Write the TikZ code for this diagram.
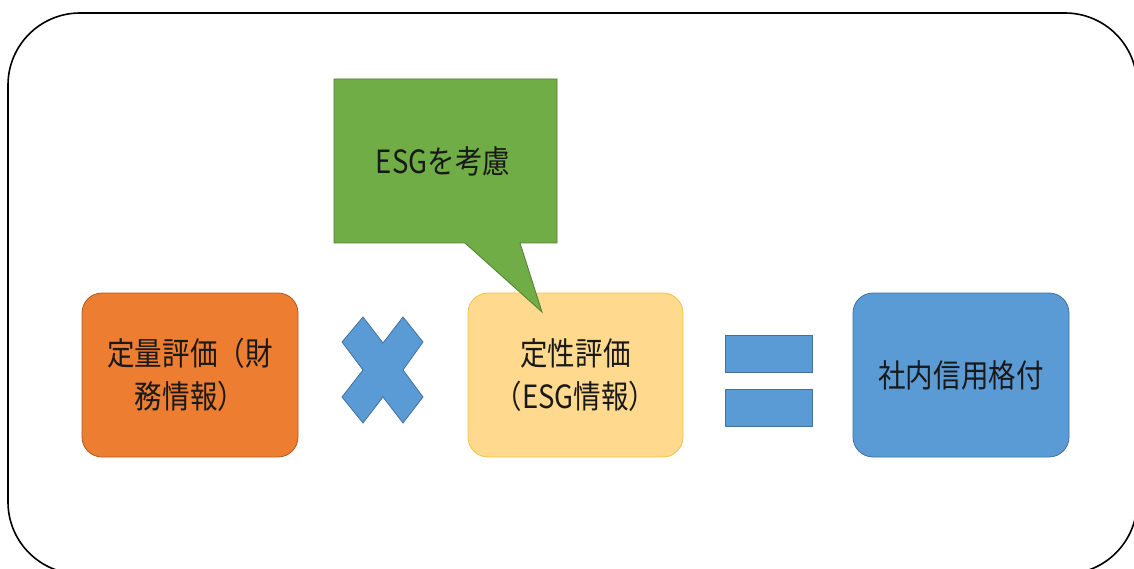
\documentclass[tikz,border=0pt]{standalone}
\usepackage{graphicx}
\usepackage{fontspec}
\setmainfont{Noto Sans CJK JP}
\definecolor{orangeF}{HTML}{ED7D31}
\definecolor{orangeD}{HTML}{AE5A21}
\definecolor{yellowF}{HTML}{FFD98E}
\definecolor{yellowD}{HTML}{F2C343}
\definecolor{blueF}{HTML}{5B9BD5}
\definecolor{blueD}{HTML}{41719C}
\definecolor{greenF}{HTML}{70AD47}
\definecolor{greenD}{HTML}{507E32}
\newcommand\cnd[1]{\scalebox{0.86}[1]{#1}}
\tikzset{
  box/.style={rectangle, rounded corners=20pt, minimum width=216pt, minimum height=164pt,
    line width=0.8pt, align=center, font=\fontsize{32pt}{43pt}\selectfont\light, text=black!90, inner sep=0pt},
  shapeblue/.style={fill=blueF, draw=blueD, line width=0.8pt},
  lbl/.style={font=\fontsize{32pt}{43pt}\selectfont\light, text=black!90, inner sep=0pt}
}
\newcommand\light{}
\begin{document}
\begin{tikzpicture}[x=1pt,y=-1pt]
\useasboundingbox (0,0) rectangle (1134,569);
\fill[white] (0,0) rectangle (1134,569);
% outer frame
\draw[line width=1.6pt, rounded corners=72pt] (8,13) rectangle (1137,574);
% boxes
\node[box, fill=orangeF, draw=orangeD] (quant) at (190,375) {\cnd{定量評価（財}\\\cnd{務情報）}};
\node[box, fill=yellowF, draw=yellowD, minimum width=215pt] (qual) at (575.5,375) {\cnd{定性評価}\\\cnd{（ESG情報）}};
\node[box, fill=blueF, draw=blueD] (rating) at (961,375) {\cnd{社内信用格付}};
% callout
\draw[fill=greenF, draw=greenD, line width=0.8pt] (334,79) -- (557,79) -- (557,243) -- (520,243) -- (542,312) -- (465,243) -- (334,243) -- cycle;
\node[lbl] (esg) at (443,161) {\cnd{ESGを考慮}};
% multiply sign
\draw[shapeblue] (342,342) -- (363,317) -- (383,343) -- (403,317) -- (423,342) -- (403,370) -- (423,397) -- (403,423) -- (383,397) -- (363,423) -- (342,397) -- (363,370) -- cycle;
% equals sign
\draw[shapeblue] (725,335) rectangle (812,372);
\draw[shapeblue] (725,389) rectangle (812,426);
\end{tikzpicture}
\end{document}
